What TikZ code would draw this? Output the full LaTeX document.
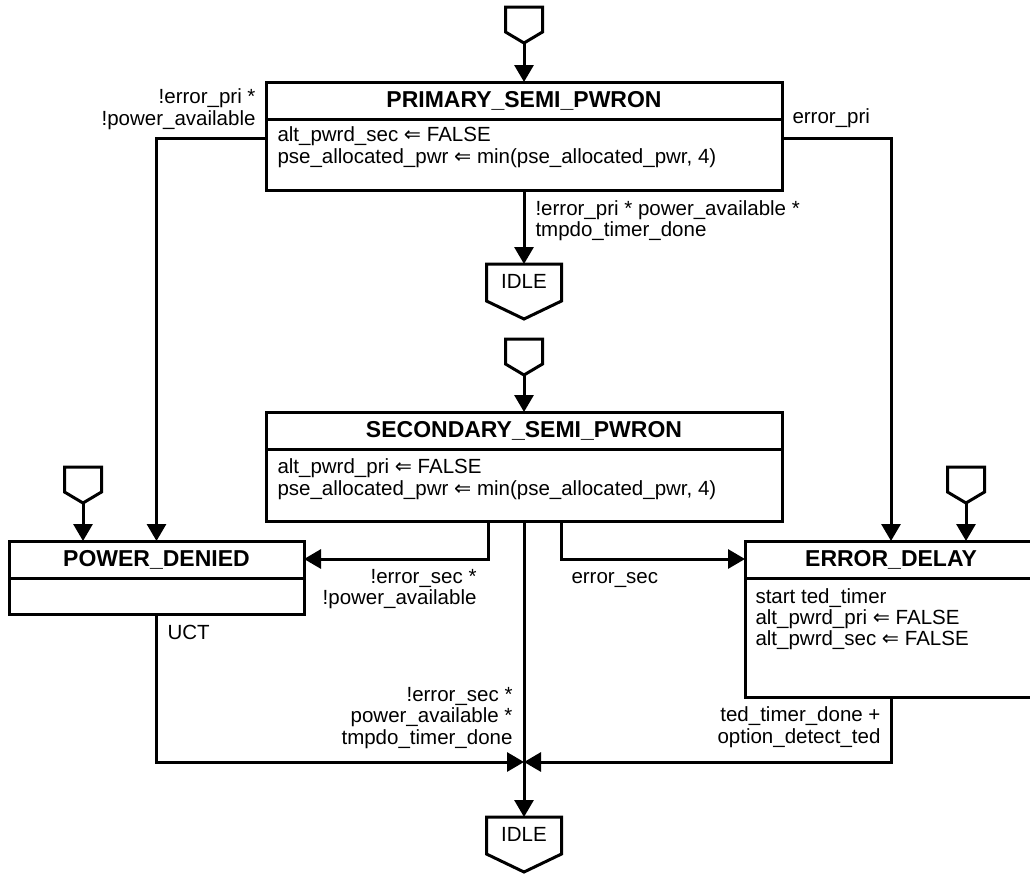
\documentclass[tikz,border=0pt]{standalone}
\usepackage{fontspec}
\setmainfont{Liberation Sans}
\newfontfamily\symfont{DejaVu Sans}
\newcommand{\lar}{{\symfont ⇐}}
\usetikzlibrary{arrows.meta,calc}
\begin{document}
\begin{tikzpicture}[x=1pt,y=-1pt,
  line width=3pt,
  box/.style={draw,line width=3pt,rectangle,inner sep=0pt,outer sep=0pt,anchor=north west},
  ttl/.style={font=\fontsize{23}{25}\selectfont\bfseries,inner sep=0pt},
  body/.style={font=\fontsize{20.5}{22}\selectfont,align=left,inner sep=0pt,anchor=north west},
  lbl/.style={font=\fontsize{20.5}{21.5}\selectfont,inner sep=0pt},
  one/.style={lbl,text height=14.7pt,text depth=0pt},
  arr/.style={-{Triangle[width=19pt,length=17pt]},line width=3pt},
  entry/.pic={\draw[line width=3pt,line join=miter] (-18.5,0) -- (18.5,0) -- (18.5,25) -- (0,36) -- (-18.5,25) -- cycle; \coordinate (-tip) at (0,36);},
  idle/.pic={\draw[line width=3pt,line join=miter] (-37.5,0) -- (37.5,0) -- (37.5,37) -- (0,55) -- (-37.5,37) -- cycle; \node[lbl] (-txt) at (0,17) {IDLE}; \coordinate (-top) at (0,0);}
]
\useasboundingbox (0,0) rectangle (1030,873);
\fill[white] (0,0) rectangle (1030,873);
\clip (0,0) rectangle (1030,873);

% ---- state boxes ----
\node[box,minimum width=516pt,minimum height=108pt] (psp) at (266,82) {};
\draw ($(psp.north west)+(0,37)$) -- ($(psp.north east)+(0,37)$);
\node[ttl] (psp-t) at ($(psp.north)+(0,18.5)$) {PRIMARY\_SEMI\_PWRON};
\node[body] (psp-b) at ($(psp.north west)+(10,43.5)$) {alt\_pwrd\_sec \lar{} FALSE\\pse\_allocated\_pwr \lar{} min(pse\_allocated\_pwr, 4)};

\node[box,minimum width=516pt,minimum height=109pt] (ssp) at (266,412) {};
\draw ($(ssp.north west)+(0,37)$) -- ($(ssp.north east)+(0,37)$);
\node[ttl] (ssp-t) at ($(ssp.north)+(0,18.5)$) {SECONDARY\_SEMI\_PWRON};
\node[body] (ssp-b) at ($(ssp.north west)+(10,45)$) {alt\_pwrd\_pri \lar{} FALSE\\pse\_allocated\_pwr \lar{} min(pse\_allocated\_pwr, 4)};

\node[box,minimum width=295pt,minimum height=73pt] (pd) at (9,541) {};
\draw ($(pd.north west)+(0,37)$) -- ($(pd.north east)+(0,37)$);
\node[ttl] (pd-t) at ($(pd.north)+(0,18.5)$) {POWER\_DENIED};

\node[box,minimum width=292pt,minimum height=156pt] (ed) at (745,541) {};
\draw ($(ed.north west)+(0,37)$) -- ($(ed.north east)+(0,37)$);
\node[ttl] (ed-t) at ($(ed.north)+(0,18.5)$) {ERROR\_DELAY};
\node[body,font=\fontsize{20.5}{21}\selectfont] (ed-b) at ($(ed.north west)+(9,46)$) {start ted\_timer\\alt\_pwrd\_pri \lar{} FALSE\\alt\_pwrd\_sec \lar{} FALSE};

% ---- entry and exit symbols ----
\pic (etop) at (524,7) {entry};
\pic (esec) at (524,339) {entry};
\pic (epd) at (83,467) {entry};
\pic (eed) at (966,467) {entry};
\pic (ia) at (524,264) {idle};
\pic (ib) at (524,817) {idle};
\coordinate (j) at (524,762);

% ---- connectors ----
\draw[arr] (etop-tip) -- (psp.north);
\draw[arr] (esec-tip) -- (ssp.north);
\draw[arr] (epd-tip) -- (epd-tip |- pd.north);
\draw[arr] (eed-tip) -- (eed-tip |- ed.north);

\draw[arr] ($(psp.north west)+(0,56)$) -| (pd.north);
\draw[arr] ($(psp.north east)+(0,56)$) -| (ed.north);
\draw[arr] (psp.south) -- (ia-top);

\draw[arr] ($(ssp.south)+(-36,0)$) |- ($(pd.north east)+(0,18)$);
\draw[arr] (ssp.south) -- (ib-top);
\draw[arr] ($(ssp.south)+(37,0)$) |- ($(ed.north west)+(0,18)$);

\draw[arr] (pd.south) |- (j);
\draw[arr] (ed.south) |- (j);

% ---- transition labels ----
\node[lbl,align=right,anchor=east] (l1) at (257,109) {!error\_pri *\\!power\_available};
\node[one,anchor=west] (l2) at (791,116) {error\_pri};
\node[lbl,align=left,anchor=west] (l3) at (534,220.5) {!error\_pri * power\_available *\\tmpdo\_timer\_done};
\node[lbl,align=right,anchor=east] (l4) at (478,589) {!error\_sec *\\!power\_available};
\node[one,anchor=west] (l5) at (570,576) {error\_sec};
\node[one,anchor=west] (l6) at (166,632) {UCT};
\node[lbl,align=right,anchor=east] (l7) at (514,718) {!error\_sec *\\power\_available *\\tmpdo\_timer\_done};
\node[lbl,align=right,anchor=east] (l8) at (882,727) {ted\_timer\_done +\\option\_detect\_ted};
\end{tikzpicture}
\end{document}
